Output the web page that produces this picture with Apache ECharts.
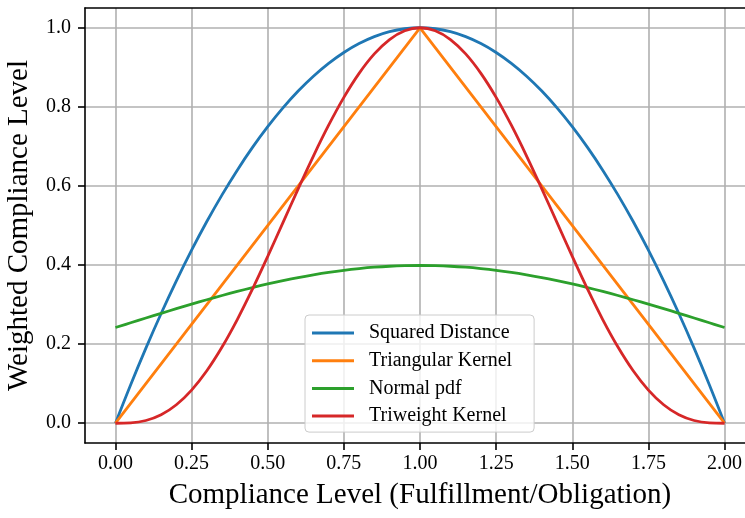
<!DOCTYPE html>
<html>
<head>
<meta charset="utf-8">
<script src="https://cdn.jsdelivr.net/npm/echarts@6/dist/echarts.min.js"></script>
<style>html,body{margin:0;padding:0;background:#fff;}#c{width:745px;height:518px;}</style>
</head>
<body>
<div id="c"></div>
<script>
const xValues = [0,0.05,0.1,0.15,0.2,0.25,0.3,0.35,0.4,0.45,0.5,0.55,0.6,0.65,0.7,0.75,0.8,0.85,0.9,0.95,1,
  1.05,1.1,1.15,1.2,1.25,1.3,1.35,1.4,1.45,1.5,1.55,1.6,1.65,1.7,1.75,1.8,1.85,1.9,1.95,2];
const squaredDistance = [0,0.0975,0.19,0.2775,0.36,0.4375,0.51,0.5775,0.64,0.6975,0.75,0.7975,0.84,0.8775,0.91,0.9375,0.96,0.9775,0.99,0.9975,1,
  0.9975,0.99,0.9775,0.96,0.9375,0.91,0.8775,0.84,0.7975,0.75,0.6975,0.64,0.5775,0.51,0.4375,0.36,0.2775,0.19,0.0975,0];
const triangularX = [0,1,2];
const triangularKernel = [0,1,0];
const normalPdf = [0.2420,0.2541,0.2661,0.2780,0.2897,0.3011,0.3123,0.3230,0.3332,0.3429,0.3521,0.3605,0.3683,0.3752,0.3814,0.3867,0.3910,0.3945,0.3970,0.3984,0.3989,
  0.3984,0.3970,0.3945,0.3910,0.3867,0.3814,0.3752,0.3683,0.3605,0.3521,0.3429,0.3332,0.3230,0.3123,0.3011,0.2897,0.2780,0.2661,0.2541,0.2420];
const triweightKernel = [0,0.000927,0.006859,0.021369,0.046656,0.083740,0.132651,0.192600,0.262144,0.339338,0.421875,0.507215,0.592704,0.675680,0.753571,0.823975,0.884736,0.934007,0.970299,0.992519,1,
  0.992519,0.970299,0.934007,0.884736,0.823975,0.753571,0.675680,0.592704,0.507215,0.421875,0.339338,0.262144,0.192600,0.132651,0.083740,0.046656,0.021369,0.006859,0.000927,0];
const xTicks = [0,0.25,0.5,0.75,1,1.25,1.5,1.75,2];
const yTicks = [0,0.2,0.4,0.6,0.8,1.0];
const seriesNames = ['Squared Distance','Triangular Kernel','Normal pdf','Triweight Kernel'];
const colors = ['#1f77b4','#ff7f0e','#2ca02c','#d62728'];

const FONT = 'Liberation Serif';
const zip = (xs, ys) => xs.map((x, i) => [x, ys[i]]);
const chart = echarts.init(document.getElementById('c'), null, {renderer: 'canvas'});
const gridLine = {show: true, lineStyle: {color: '#b0b0b0', width: 1.6}};
chart.setOption({
  animation: false,
  backgroundColor: '#fff',
  color: colors,
  textStyle: {fontFamily: FONT, color: '#000'},
  grid: {left: 85, top: 8, right: -10, bottom: 75, containLabel: false, outerBoundsMode: 'none'},
  xAxis: [{
    type: 'value', min: -0.1, max: 2.1,
    name: 'Compliance Level (Fulfillment/Obligation)',
    nameLocation: 'middle', nameGap: 38,
    nameTextStyle: {fontFamily: FONT, fontSize: 29, color: '#000'},
    axisLine: {show: true, onZero: false, lineStyle: {color: '#000', width: 1.6}},
    axisTick: {show: true, length: 7, customValues: xTicks, lineStyle: {color: '#000', width: 1.6}},
    axisLabel: {customValues: xTicks, margin: 11, fontFamily: FONT, fontSize: 20, color: '#000',
      formatter: v => v.toFixed(2)},
    splitLine: gridLine
  }, {
    type: 'value', min: -0.1, max: 2.1, position: 'top',
    axisLine: {show: true, onZero: false, lineStyle: {color: '#000', width: 1.6}},
    axisTick: {show: false}, axisLabel: {show: false}, splitLine: {show: false}
  }],
  yAxis: {
    type: 'value', min: -0.05, max: 1.05,
    name: 'Weighted Compliance Level',
    nameLocation: 'middle', nameGap: 51,
    nameTextStyle: {fontFamily: FONT, fontSize: 29, color: '#000'},
    axisLine: {show: true, onZero: false, lineStyle: {color: '#000', width: 1.6}},
    axisTick: {show: true, length: 7, customValues: yTicks, lineStyle: {color: '#000', width: 1.6}},
    axisLabel: {customValues: yTicks, margin: 14, fontFamily: FONT, fontSize: 20, color: '#000',
      formatter: v => v.toFixed(1)},
    splitLine: gridLine
  },
  legend: {
    orient: 'vertical', left: 305, top: 315,
    padding: [8, 22, 6, 7], itemGap: 7.7,
    itemWidth: 42, itemHeight: 3, icon: 'rect',
    backgroundColor: 'rgba(255,255,255,0.8)', borderColor: '#cccccc', borderWidth: 1, borderRadius: 4,
    textStyle: {fontFamily: FONT, fontSize: 20, color: '#000', padding: [0, 0, 0, 10]},
    data: seriesNames
  },
  series: [
    {name: seriesNames[0], type: 'line', data: zip(xValues, squaredDistance), showSymbol: false, smooth: 0.4, lineStyle: {width: 2.8}},
    {name: seriesNames[1], type: 'line', data: zip(triangularX, triangularKernel), showSymbol: false, lineStyle: {width: 2.8}},
    {name: seriesNames[2], type: 'line', data: zip(xValues, normalPdf), showSymbol: false, smooth: 0.4, lineStyle: {width: 2.8}},
    {name: seriesNames[3], type: 'line', data: zip(xValues, triweightKernel), showSymbol: false, smooth: 0.4, lineStyle: {width: 2.8}}
  ]
});
</script>
</body>
</html>
